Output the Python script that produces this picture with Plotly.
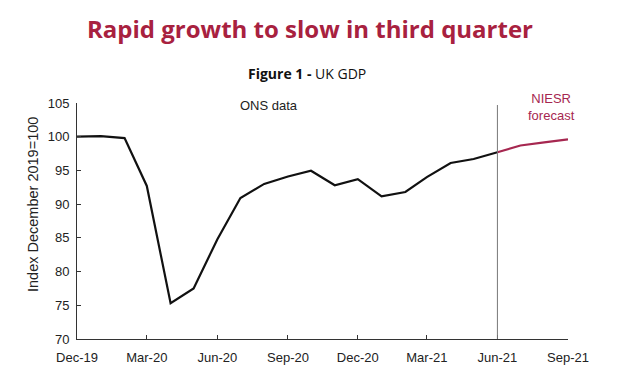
import plotly.graph_objects as go

months = ["2019-12-01", "2020-01-01", "2020-02-01", "2020-03-01", "2020-04-01", "2020-05-01",
          "2020-06-01", "2020-07-01", "2020-08-01", "2020-09-01", "2020-10-01", "2020-11-01",
          "2020-12-01", "2021-01-01", "2021-02-01", "2021-03-01", "2021-04-01", "2021-05-01",
          "2021-06-01"]
ons_gdp = [100.0, 100.1, 99.8, 92.7, 75.3, 77.5, 84.8, 90.9, 93.0, 94.1, 94.95, 92.8,
           93.7, 91.15, 91.8, 94.0, 96.1, 96.7, 97.7]

forecast_months = ["2021-06-01", "2021-07-01", "2021-08-01", "2021-09-01"]
niesr_gdp = [97.7, 98.7, 99.15, 99.6]

tick_dates = ["2019-12-01", "2020-03-01", "2020-06-01", "2020-09-01", "2020-12-01",
              "2021-03-01", "2021-06-01", "2021-09-01"]
tick_labels = ["Dec-19", "Mar-20", "Jun-20", "Sep-20", "Dec-20", "Mar-21", "Jun-21", "Sep-21"]
y_ticks = [70, 75, 80, 85, 90, 95, 100, 105]

RED = "#a8213f"
FONT = "Liberation Sans, Arial, sans-serif"

fig = go.Figure()
fig.add_trace(go.Scatter(x=months, y=ons_gdp, mode="lines",
                         line=dict(color="#111111", width=2.2), showlegend=False))
fig.add_trace(go.Scatter(x=forecast_months, y=niesr_gdp, mode="lines",
                         line=dict(color="#a62750", width=2.2), showlegend=False))

fig.add_shape(type="line", xref="x", yref="y", x0="2021-06-01", x1="2021-06-01",
              y0=70, y1=104.7, line=dict(color="#777777", width=1))

fig.update_layout(
    width=620, height=376,
    margin=dict(l=77, r=52, t=103, b=37),
    paper_bgcolor="white", plot_bgcolor="white",
    font=dict(family=FONT, size=13, color="#222222"),
    xaxis=dict(type="date", range=["2019-12-01", "2021-09-01"],
               tickvals=tick_dates, ticktext=tick_labels,
               showgrid=False, zeroline=False, showline=True, linecolor="#333333", linewidth=1,
               ticks="inside", ticklen=4, tickcolor="#333333", ticklabelstandoff=6,
               tickfont=dict(family=FONT, size=13, color="#222222")),
    yaxis=dict(range=[70, 105], tickvals=y_ticks,
               showgrid=False, zeroline=False, showline=True, linecolor="#333333", linewidth=1,
               ticks="inside", ticklen=4, tickcolor="#333333", ticklabelstandoff=4,
               tickfont=dict(family=FONT, size=13, color="#222222")),
    annotations=[
        dict(text="<b>Rapid growth to slow in third quarter</b>", xref="paper", yref="paper",
             x=0.5, y=1, yshift=75, xanchor="center", yanchor="middle", showarrow=False,
             xshift=-13, font=dict(family="Open Sans, sans-serif", size=24, color=RED)),
        dict(text="<b>Figure 1 -</b> UK GDP", xref="paper", yref="paper",
             x=0.5, y=1, yshift=30, xanchor="center", yanchor="middle", showarrow=False,
             xshift=-16, font=dict(family="Open Sans, sans-serif", size=14, color="#111111")),
        dict(text="Index December 2019=100", xref="paper", yref="paper",
             x=0, y=0.5, xshift=-44, yshift=16, textangle=-90, xanchor="center", yanchor="middle",
             showarrow=False, font=dict(family=FONT, size=14.5, color="#222222")),
        dict(text="ONS data", xref="paper", yref="paper",
             x=0, y=1, xshift=192, yshift=-2, xanchor="center", yanchor="middle",
             showarrow=False, font=dict(family=FONT, size=13, color="#222222")),
        dict(text="NIESR<br>forecast", xref="paper", yref="paper",
             x=0, y=1, xshift=474, yshift=-4, xanchor="center", yanchor="middle",
             showarrow=False, font=dict(family=FONT, size=13, color="#a62750")),
    ],
)

fig.write_html("out.html", config={"displayModeBar": False},
               post_script="document.body.style.margin='0';")
